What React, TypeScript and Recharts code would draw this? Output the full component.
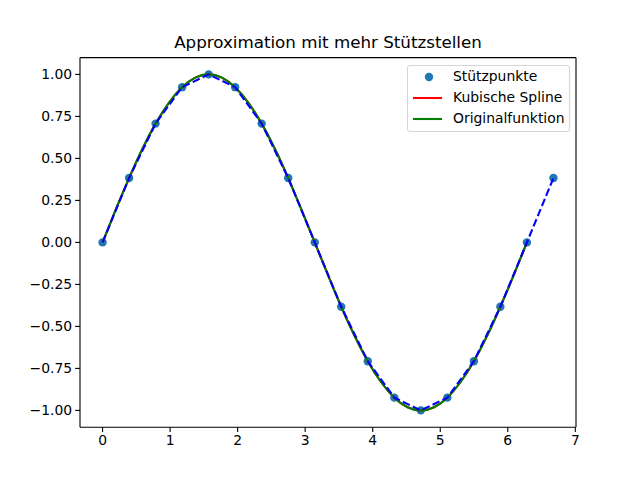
import React from "react";
import { ComposedChart, Line, Scatter, XAxis, YAxis, Legend, ReferenceLine } from "recharts";

const pointX = [0, 0.393, 0.785, 1.178, 1.571, 1.963, 2.356, 2.749, 3.142, 3.534, 3.927, 4.32, 4.712, 5.105, 5.498, 5.89, 6.283, 6.676];
const pointY = [0, 0.383, 0.707, 0.924, 1.0, 0.924, 0.707, 0.383, 0, -0.383, -0.707, -0.924, -1.0, -0.924, -0.707, -0.383, 0, 0.383];

const curveX = [0, 0.196, 0.393, 0.589, 0.785, 0.982, 1.178, 1.374, 1.571, 1.767, 1.963, 2.16, 2.356, 2.553, 2.749, 2.945, 3.142, 3.338, 3.534, 3.731, 3.927, 4.123, 4.32, 4.516, 4.712, 4.909, 5.105, 5.301, 5.498, 5.694, 5.89, 6.087, 6.283];
const splineY = [0, 0.196, 0.383, 0.556, 0.707, 0.831, 0.924, 0.981, 1.0, 0.981, 0.924, 0.831, 0.707, 0.556, 0.383, 0.195, 0, -0.195, -0.383, -0.556, -0.707, -0.831, -0.924, -0.981, -1.0, -0.981, -0.924, -0.831, -0.707, -0.556, -0.383, -0.196, 0];
const originalY = [0, 0.195, 0.383, 0.556, 0.707, 0.831, 0.924, 0.981, 1.0, 0.981, 0.924, 0.831, 0.707, 0.556, 0.383, 0.195, 0, -0.195, -0.383, -0.556, -0.707, -0.831, -0.924, -0.981, -1.0, -0.981, -0.924, -0.831, -0.707, -0.556, -0.383, -0.195, 0];

const xTicks = [0, 1, 2, 3, 4, 5, 6, 7];
const yTicks = [-1, -0.75, -0.5, -0.25, 0, 0.25, 0.5, 0.75, 1];
const xDomain = [-0.334, 7.01];
const yDomain = [-1.1, 1.1];

const legendItems = [
  { label: "Stützpunkte", kind: "dot", color: "#1f77b4" },
  { label: "Kubische Spline", kind: "line", color: "#ff0000" },
  { label: "Originalfunktion", kind: "line", color: "#008000" },
];

const points = pointX.map((x, i) => ({ x, y: pointY[i] }));
const spline = curveX.map((x, i) => ({ x, y: splineY[i] }));
const original = curveX.map((x, i) => ({ x, y: originalY[i] }));

const FONT = "'DejaVu Sans', sans-serif";
const fmtY = (v: number) => (v < 0 ? "\u2212" + Math.abs(v).toFixed(2) : v.toFixed(2));
const fmtX = (v: number) => String(v);

const tickStyle = { fill: "#000", fontSize: 13.9, fontFamily: FONT };

const LegendBox = () => (
  <div
    style={{
      width: 163,
      height: 67,
      boxSizing: "border-box",
      border: "1px solid #d5d5d5",
      borderRadius: 3,
      background: "rgba(255,255,255,0.8)",
      fontFamily: FONT,
      fontSize: 13.9,
      color: "#000",
      position: "relative",
    }}
  >
    {legendItems.map((it, i) => (
      <div key={it.label} style={{ position: "absolute", left: 0, top: 1 + i * 21, height: 21, width: 163 }}>
        <svg width={40} height={21} style={{ position: "absolute", left: 0, top: 0 }}>
          {it.kind === "dot" ? (
            <circle cx={21} cy={10} r={4.2} fill={it.color} />
          ) : (
            <line x1={5} x2={34} y1={10} y2={10} stroke={it.color} strokeWidth={2.08} />
          )}
        </svg>
        <span style={{ position: "absolute", left: 45, top: 1, lineHeight: "17px", whiteSpace: "nowrap" }}>{it.label}</span>
      </div>
    ))}
  </div>
);

export default function App() {
  return (
    <div style={{ position: "absolute", left: 0, top: 0, width: 640, height: 480, background: "#fff" }}>
      <div
        style={{
          position: "absolute",
          left: 80,
          width: 496,
          top: 32,
          textAlign: "center",
          fontFamily: FONT,
          fontSize: 16.7,
          lineHeight: "20px",
          color: "#000",
        }}
      >
        Approximation mit mehr Stützstellen
      </div>
      <ComposedChart width={640} height={480} margin={{ top: 57.6, right: 64, bottom: 22.8, left: 20 }}>
        <XAxis
          type="number"
          dataKey="x"
          domain={xDomain}
          ticks={xTicks}
          tickFormatter={fmtX}
          allowDataOverflow
          height={30}
          tick={tickStyle}
          tickSize={4.9}
          tickMargin={3}
          axisLine={{ stroke: "#000", strokeWidth: 1.1 }}
          tickLine={{ stroke: "#000", strokeWidth: 1.1 }}
        />
        <YAxis
          type="number"
          domain={yDomain}
          ticks={yTicks}
          tickFormatter={fmtY}
          allowDataOverflow
          width={60}
          tick={tickStyle}
          tickSize={4.9}
          tickMargin={3}
          axisLine={{ stroke: "#000", strokeWidth: 1.1 }}
          tickLine={{ stroke: "#000", strokeWidth: 1.1 }}
        />
        <ReferenceLine y={yDomain[1]} stroke="#000" strokeWidth={1.1} ifOverflow="visible" />
        <ReferenceLine x={xDomain[1]} stroke="#000" strokeWidth={1.1} ifOverflow="visible" />
        <Legend
          layout="vertical"
          align="center"
          verticalAlign="middle"
          content={() => <LegendBox />}
          wrapperStyle={{ position: "absolute", left: 407, top: 65, width: 163, height: 67 }}
        />
        <Scatter
          data={points}
          dataKey="y"
          zIndex={350}
          isAnimationActive={false}
          shape={(p: any) => <circle cx={p.cx} cy={p.cy} r={4.2} fill="#1f77b4" />}
        />
        <Line
          data={spline}
          dataKey="y"
          type="natural"
          stroke="#ff0000"
          strokeWidth={2.08}
          dot={false}
          activeDot={false}
          isAnimationActive={false}
        />
        <Line
          data={original}
          dataKey="y"
          type="natural"
          stroke="#008000"
          strokeWidth={2.08}
          dot={false}
          activeDot={false}
          isAnimationActive={false}
        />
        <Line
          data={points}
          dataKey="y"
          type="linear"
          stroke="#0000ff"
          strokeWidth={2.08}
          strokeDasharray="7.7 3.3"
          dot={false}
          activeDot={false}
          isAnimationActive={false}
        />
      </ComposedChart>
    </div>
  );
}
